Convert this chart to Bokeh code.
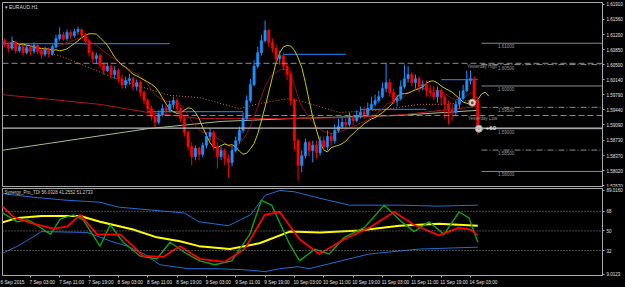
import numpy as np
import pandas as pd
from bokeh.plotting import figure
from bokeh.layouts import column
from bokeh.models import (Range1d, FixedTicker, PrintfTickFormatter, Span, Label,
                          ColumnDataSource)
from bokeh.embed import file_html
from bokeh.resources import INLINE
from bokeh.core.properties import value

# ---------------- data ----------------
symbol_title = "\u25BE EURAUD,H1"
tdi_title = "Synergy_Pro_TDI 56.0328 41.2552 51.2733"

first_open = 1.6095
closes = [1.6106, 1.6097, 1.6088, 1.6102, 1.6083, 1.6092, 1.6078, 1.6090, 1.6081, 1.6095,
          1.6083, 1.6074, 1.6085, 1.6076, 1.6092, 1.6111, 1.6120, 1.6111, 1.6125, 1.6118,
          1.6127, 1.6132, 1.6120, 1.6106, 1.6078, 1.6064, 1.6071, 1.6050, 1.6036, 1.6046,
          1.6027, 1.6036, 1.6017, 1.6003, 1.6013, 1.6017, 1.5999, 1.6008, 1.5985, 1.5966,
          1.5947, 1.5929, 1.5915, 1.5933, 1.5947, 1.5943, 1.5957, 1.5966, 1.5947, 1.5924,
          1.5891, 1.5858, 1.5835, 1.5854, 1.5840, 1.5861, 1.5882, 1.5891, 1.5858, 1.5835,
          1.5849, 1.5830, 1.5821, 1.5849, 1.5872, 1.5896, 1.5924, 1.5966, 1.6003, 1.6046,
          1.6078, 1.6106, 1.6130, 1.6102, 1.6088, 1.6064, 1.6071, 1.6046, 1.6027, 1.5966,
          1.5872, 1.5814, 1.5837, 1.5868, 1.5849, 1.5861, 1.5844, 1.5872, 1.5858, 1.5882,
          1.5872, 1.5896, 1.5905, 1.5915, 1.5910, 1.5924, 1.5919, 1.5931, 1.5938, 1.5933,
          1.5947, 1.5957, 1.5966, 1.5975, 1.5994, 1.6008, 1.5985, 1.5966, 1.5971, 1.5999,
          1.6017, 1.6027, 1.6008, 1.6017, 1.5999, 1.6003, 1.5989, 1.5985, 1.5975, 1.5989,
          1.5973, 1.5957, 1.5943, 1.5938, 1.5957, 1.5971, 1.5989, 1.6013, 1.6017, 1.5966,
          1.5901]
highs = [1.6116, 1.6111, 1.6102, 1.6116, 1.6106, 1.6097, 1.6097, 1.6097, 1.6095, 1.6102,
         1.6099, 1.6088, 1.6092, 1.6090, 1.6097, 1.6120, 1.6137, 1.6127, 1.6132, 1.6130,
         1.6134, 1.6139, 1.6134, 1.6125, 1.6111, 1.6083, 1.6078, 1.6076, 1.6055, 1.6055,
         1.6050, 1.6046, 1.6041, 1.6027, 1.6022, 1.6029, 1.6022, 1.6015, 1.6013, 1.5989,
         1.5971, 1.5954, 1.5938, 1.5943, 1.5957, 1.5957, 1.5966, 1.5975, 1.5971, 1.5952,
         1.5929, 1.5896, 1.5868, 1.5861, 1.5858, 1.5868, 1.5891, 1.5900, 1.5896, 1.5868,
         1.5858, 1.5854, 1.5840, 1.5858, 1.5882, 1.5905, 1.5938, 1.5978, 1.6017, 1.6060,
         1.6092, 1.6120, 1.6153, 1.6134, 1.6111, 1.6097, 1.6083, 1.6078, 1.6055, 1.6036,
         1.5971, 1.5877, 1.5849, 1.5877, 1.5872, 1.5872, 1.5872, 1.5882, 1.5882, 1.5896,
         1.5891, 1.5910, 1.5924, 1.5929, 1.5924, 1.5938, 1.5933, 1.5943, 1.5952, 1.5952,
         1.5961, 1.5975, 1.5980, 1.5989, 1.6008, 1.6053, 1.6017, 1.5994, 1.5980, 1.6013,
         1.6050, 1.6046, 1.6032, 1.6027, 1.6022, 1.6013, 1.6013, 1.6003, 1.5999, 1.5999,
         1.5994, 1.5980, 1.5966, 1.5957, 1.5966, 1.5989, 1.6003, 1.6036, 1.6036, 1.6022,
         1.5975]
lows = [1.6090, 1.6092, 1.6078, 1.6083, 1.6076, 1.6078, 1.6071, 1.6074, 1.6071, 1.6076,
        1.6074, 1.6064, 1.6069, 1.6067, 1.6071, 1.6088, 1.6106, 1.6106, 1.6106, 1.6111,
        1.6113, 1.6120, 1.6113, 1.6097, 1.6069, 1.6055, 1.6053, 1.6041, 1.6027, 1.6032,
        1.6017, 1.6017, 1.6008, 1.5994, 1.5994, 1.6003, 1.5989, 1.5989, 1.5975, 1.5957,
        1.5938, 1.5919, 1.5903, 1.5910, 1.5929, 1.5933, 1.5938, 1.5947, 1.5938, 1.5915,
        1.5882, 1.5849, 1.5814, 1.5826, 1.5826, 1.5833, 1.5854, 1.5872, 1.5849, 1.5807,
        1.5826, 1.5814, 1.5786, 1.5812, 1.5844, 1.5865, 1.5891, 1.5919, 1.5961, 1.5999,
        1.6041, 1.6071, 1.6102, 1.6092, 1.6078, 1.6055, 1.6050, 1.6036, 1.6013, 1.5954,
        1.5849, 1.5779, 1.5798, 1.5830, 1.5835, 1.5821, 1.5830, 1.5837, 1.5849, 1.5849,
        1.5861, 1.5865, 1.5891, 1.5900, 1.5900, 1.5905, 1.5908, 1.5915, 1.5924, 1.5924,
        1.5929, 1.5943, 1.5952, 1.5961, 1.5971, 1.5985, 1.5975, 1.5957, 1.5952, 1.5966,
        1.5994, 1.6008, 1.5999, 1.5994, 1.5985, 1.5989, 1.5975, 1.5975, 1.5966, 1.5961,
        1.5957, 1.5924, 1.5910, 1.5919, 1.5931, 1.5947, 1.5966, 1.5985, 1.6003, 1.5961,
        1.5886]

price_ticks = [1.6191, 1.6156, 1.6120, 1.6085, 1.6050, 1.6014, 1.5979, 1.5944, 1.5909,
               1.5873, 1.5837, 1.5802, 1.5767]
bid = 1.59013
yday_high = 1.6053
yday_low = 1.5931
whole_levels = [1.6100, 1.6000, 1.5900, 1.5800]
half_levels = [1.6050, 1.5950, 1.5850]

# slow moving averages (bar index, price)
orange_x = [0, 16, 32.5, 46, 54, 65, 70.5, 78.7, 84, 92.3, 103, 114, 122, 127.6]
orange_y = [1.6095, 1.6071, 1.6013, 1.5978, 1.5973, 1.5947, 1.5959, 1.5971, 1.5959, 1.5938,
            1.5943, 1.5957, 1.5957, 1.5966]
red_x = [0, 27, 40, 54, 78, 95, 110, 120, 130]
red_y = [1.5980, 1.5957, 1.5938, 1.5924, 1.5924, 1.5926, 1.5933, 1.5943, 1.5952]
sage_x = [0, 40, 60, 80, 108, 130]
sage_y = [1.5849, 1.5900, 1.5917, 1.5924, 1.5931, 1.5943]

# blue horizontal segments
blue_x0 = [0, 40, 77, 98, 120]
blue_x1 = [46, 66, 94, 116, 130]
blue_y = [1.6099, 1.5940, 1.6074, 1.5945, 1.6015]

# markers
marker_x = [128.5, 130.3]
marker_y = [1.5961, 1.5900]

# TDI
tdi_up_x = [0, 9, 18, 27, 32, 41, 50, 54, 62, 68, 72, 76, 80, 87, 95, 109, 119, 130]
tdi_up = [84.5, 80.9, 78.2, 76.4, 71.9, 69.2, 66.5, 58.4, 54.8, 64.7, 82.7, 87.2, 86.0, 80.0,
          73.7, 73.7, 72.8, 73.7]
tdi_lo_x = [0, 4.5, 9, 11, 23.5, 30, 34.4, 39, 43.3, 51, 58, 66, 72, 76, 81, 84, 89.5, 100.4,
            114, 130]
tdi_lo = [28.8, 36.0, 45.0, 49.4, 48.6, 40.5, 36.0, 28.8, 18.9, 15.3, 15.3, 14.4, 12.6, 15.3,
          17.1, 15.3, 19.8, 28.8, 33.3, 35.1]
tdi_yel_x = [0, 4.5, 11, 21.6, 27, 36, 42.5, 48.8, 54, 62.4, 70.5, 78.7, 87, 97.7, 108.6,
             119.4, 130]
tdi_yel = [57.5, 62.0, 63.8, 63.8, 58.4, 51.3, 44.1, 40.5, 36.0, 33.3, 38.7, 49.4, 48.6, 50.4,
           54.8, 56.6, 54.8]
tdi_red_x = [0, 3.4, 8, 14.3, 18, 21.6, 26.2, 32.5, 36, 38.7, 44.2, 48.8, 54.2, 61, 66.4, 71.9,
             76, 81.4, 86.8, 93.6, 100.4, 107.2, 112.6, 119.4, 124.9, 128, 130]
tdi_red = [73.7, 63.0, 57.5, 52.1, 53.9, 64.7, 46.8, 46.8, 36.0, 27.0, 26.1, 36.0, 24.3, 21.6,
           33.3, 64.7, 67.4, 42.3, 28.8, 42.3, 53.0, 67.4, 55.7, 45.9, 53.0, 51.3, 45.9]
tdi_grn_x = [0, 4.5, 7.2, 8.8, 13.5, 16.2, 19.7, 22.4, 27, 29.8, 33.3, 37.9, 42.5, 46.1, 50.7,
             54.2, 58.3, 62.9, 67.8, 71, 73.8, 78.7, 81.4, 85.5, 89.5, 93.6, 99, 104.5, 108.6,
             112.6, 116.7, 120.8, 124.9, 127.6, 130]
tdi_grn = [67.4, 58.4, 60.2, 57.5, 46.8, 61.1, 64.7, 60.2, 36.0, 55.7, 39.6, 27.0, 24.3, 39.6,
           28.8, 22.5, 18.9, 22.5, 46.8, 78.2, 73.7, 37.8, 22.5, 33.3, 28.8, 44.1, 53.0, 73.7,
           60.2, 49.4, 58.4, 46.8, 67.4, 62.0, 39.6]
tdi_levels = [68, 50, 32]
tdi_ticks = {87.3: "89.0160", 68: "68", 50: "50", 32: "32", 10.3: "9.0123"}

time_labels = ["6 Sep 2015", "7 Sep 03:00", "7 Sep 11:00", "7 Sep 19:00", "8 Sep 03:00",
               "8 Sep 11:00", "8 Sep 19:00", "9 Sep 03:00", "9 Sep 11:00", "9 Sep 19:00",
               "10 Sep 03:00", "10 Sep 11:00", "10 Sep 19:00", "11 Sep 03:00", "11 Sep 11:00",
               "11 Sep 19:00", "14 Sep 03:00"]
time_bars = [0, 8, 16, 24, 32, 40, 48, 56, 64, 72, 80, 88, 96, 104, 112, 120, 128]

# ---------------- styling ----------------
FONT = "Liberation Sans"
AX = "#a8a8a8"
LBL = "#e0e0e0"

n = len(closes)
idx = np.arange(n)
opens = [first_open] + closes[:-1]
df = pd.DataFrame(dict(x=idx, o=opens, h=highs, l=lows, c=closes))
df["top"] = df[["o", "c"]].max(axis=1)
df["bot"] = df[["o", "c"]].min(axis=1)
up = ColumnDataSource(df[df.c >= df.o])
dn = ColumnDataSource(df[df.c < df.o])

s = pd.Series(closes)
sma_fast = s.rolling(6, min_periods=1).mean()
ema_mid = s.ewm(span=12, adjust=False).mean()

xr = Range1d(0.41, 164.0)

p1 = figure(width=625, height=187, x_range=xr, y_range=Range1d(1.576476, 1.619532),
            output_backend="svg", toolbar_location=None, x_axis_location=None,
            y_axis_location="right", min_border_left=2, min_border_right=21,
            min_border_top=2, min_border_bottom=1, background_fill_color="black",
            border_fill_color="black", outline_line_color=AX)
p1.grid.visible = False
ya = p1.yaxis[0]
ya.ticker = FixedTicker(ticks=price_ticks)
ya.formatter = PrintfTickFormatter(format="%.5f")
ya.major_label_text_font = FONT
ya.major_label_text_font_size = "4.5px"
ya.major_label_text_color = LBL
ya.major_label_standoff = 2
ya.major_tick_out = 2
ya.major_tick_in = 0
ya.minor_tick_out = 0
ya.minor_tick_in = 0
ya.axis_line_color = AX
ya.major_tick_line_color = AX

# full-width reference lines
p1.add_layout(Span(location=yday_high, dimension="width", line_color="#8c8c8c",
                   line_dash="6 3", line_width=1))
p1.add_layout(Span(location=yday_low, dimension="width", line_color="#8c8c8c",
                   line_dash="6 3", line_width=1))
p1.add_layout(Span(location=bid, dimension="width", line_color="#bdbdbd", line_width=1.3))

# round levels to the right of the last bar
p1.segment(x0=[n] * len(whole_levels), y0=whole_levels, x1=[xr.end] * len(whole_levels),
           y1=whole_levels, line_color="#8a8a8a", line_width=1)
p1.segment(x0=[n] * len(half_levels), y0=half_levels, x1=[xr.end] * len(half_levels),
           y1=half_levels, line_color="#8a8a8a", line_width=1, line_dash="6 2 1 2")
all_levels = whole_levels + half_levels
lvl_src = ColumnDataSource(dict(x=[n + 4.5] * len(all_levels), y=all_levels,
                                t=[f"{v:.5f}" for v in all_levels]))
p1.text(x="x", y="y", text="t", source=lvl_src, text_font=value(FONT),
        text_font_size="4.5px", text_color="#9a9a9a", text_baseline="top",
        text_align="left", y_offset=1)

# blue level segments
p1.segment(x0=blue_x0, y0=blue_y, x1=blue_x1, y1=blue_y, line_color="#1f6fd0", line_width=1.3)

# moving averages
p1.line(sage_x, sage_y, line_color="#9fbf8f", line_width=1)
p1.line(red_x, red_y, line_color="#b01818", line_width=1)
p1.line(orange_x, orange_y, line_color="#e07000", line_width=1, line_dash="1 2")
p1.line(idx, ema_mid, line_color="#8b1010", line_width=1)
p1.line(idx + 3, sma_fast, line_color="#c8c800", line_width=1)

# candles
for src, col in ((up, "#1e90ff"), (dn, "#ff0000")):
    p1.segment(x0="x", y0="h", x1="x", y1="l", source=src, line_color=col, line_width=1)
    p1.vbar(x="x", width=0.62, top="top", bottom="bot", source=src, fill_color=col,
            line_color=col, line_width=0.6)

# markers
p1.scatter(marker_x, marker_y, size=7, fill_color="#d6d6d6", line_color="#9a9a9a")
p1.scatter(marker_x, marker_y, size=3, fill_color=["#b03010", "#f0a000"], line_color=None)

p1.add_layout(Label(x=n + 1.2, y=bid, text="+60", text_baseline="middle",
                    text_font=FONT, text_font_size="6px", text_color="white"))
p1.add_layout(Label(x=n + 4.3, y=yday_high, y_offset=-1, text="Yesterday High",
                    text_baseline="top", text_align="right", text_font=FONT,
                    text_font_size="4.5px", text_color="#9a9a9a"))
p1.add_layout(Label(x=n + 4.3, y=yday_low, y_offset=-1, text="Yesterday Low",
                    text_baseline="top", text_align="right", text_font=FONT,
                    text_font_size="4.5px", text_color="#9a9a9a"))
p1.add_layout(Label(x=xr.start, y=1.619532, x_offset=2, y_offset=-1, text=symbol_title,
                    text_baseline="top", text_font=FONT, text_font_size="5px",
                    text_color="#d8d8d8"))
p1.add_layout(Label(x=xr.end, y=bid, x_offset=1, text="1.59013", text_baseline="middle",
                    text_font=FONT, text_font_size="4.5px", text_color="black",
                    background_fill_color="white", background_fill_alpha=1.0))

# ---------------- indicator ----------------
p2 = figure(width=625, height=100, x_range=xr, y_range=Range1d(9.0123, 89.016),
            output_backend="svg", toolbar_location=None, y_axis_location="right",
            min_border_left=2, min_border_right=21, min_border_top=1, min_border_bottom=10,
            background_fill_color="black", border_fill_color="black", outline_line_color=AX)
p2.grid.visible = False
for lv in tdi_levels:
    p2.add_layout(Span(location=lv, dimension="width", line_color="#8a8a8a",
                       line_dash="1 2", line_width=1))

p2.line(tdi_up_x, tdi_up, line_color="#1f6fd0", line_width=1)
p2.line(tdi_lo_x, tdi_lo, line_color="#1f6fd0", line_width=1)
p2.line(tdi_yel_x, tdi_yel, line_color="#ffff00", line_width=2)
p2.line(tdi_grn_x, tdi_grn, line_color="#10a010", line_width=1.4)
p2.line(tdi_red_x, tdi_red, line_color="#ff0000", line_width=1.8)

p2.add_layout(Label(x=xr.start, y=89.016, x_offset=2, y_offset=-1, text=tdi_title,
                    text_baseline="top", text_font=FONT, text_font_size="4.5px",
                    text_color="#d0d0d0"))

ya2 = p2.yaxis[0]
ya2.ticker = FixedTicker(ticks=list(tdi_ticks.keys()))
ya2.major_label_overrides = tdi_ticks
ya2.major_label_text_font = FONT
ya2.major_label_text_font_size = "4.5px"
ya2.major_label_text_color = LBL
ya2.major_label_standoff = 2
ya2.major_tick_out = 2
ya2.major_tick_in = 0
ya2.minor_tick_out = 0
ya2.minor_tick_in = 0
ya2.axis_line_color = AX
ya2.major_tick_line_color = AX

centers = [round(b + len(t) * 0.295, 2) for b, t in zip(time_bars, time_labels)]
xa = p2.xaxis[0]
xa.ticker = FixedTicker(ticks=centers, minor_ticks=time_bars)
xa.major_label_overrides = dict(zip(centers, time_labels))
xa.major_label_text_font = FONT
xa.major_label_text_font_size = "4.7px"
xa.major_label_text_color = LBL
xa.major_label_standoff = 2
xa.major_tick_out = 0
xa.major_tick_in = 0
xa.minor_tick_out = 2
xa.minor_tick_in = 0
xa.minor_tick_line_color = AX
xa.axis_line_color = AX

layout = column(p1, p2, spacing=0, styles={"background-color": "black"})
open("out.html", "w").write(file_html(layout, INLINE))
